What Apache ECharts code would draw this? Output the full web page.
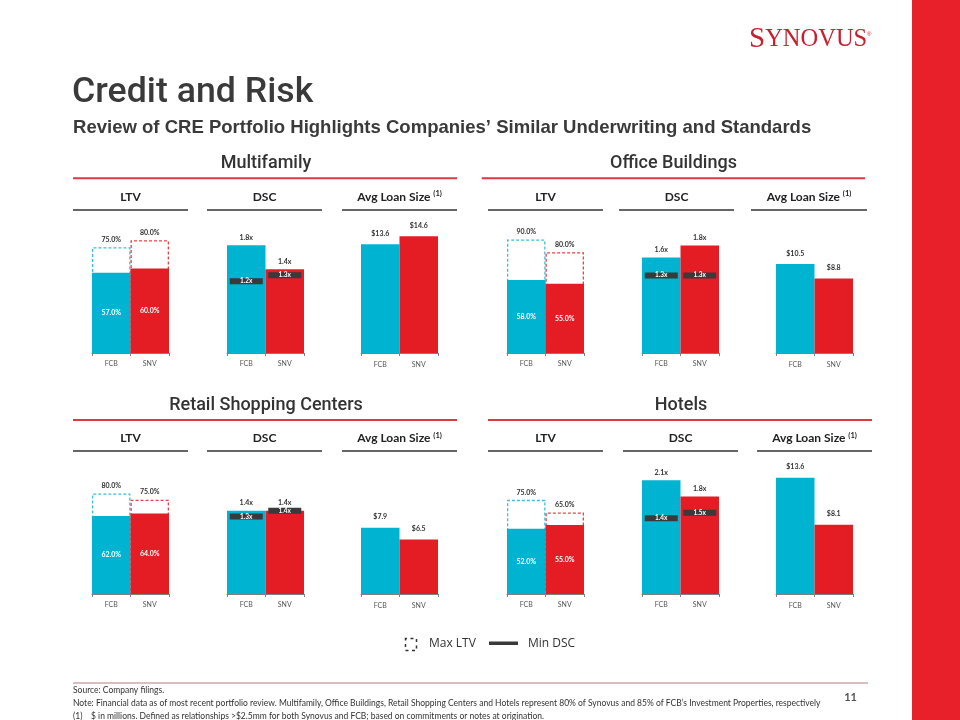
<!DOCTYPE html>
<html><head><meta charset="utf-8">
<script src="https://cdn.jsdelivr.net/npm/echarts@6/dist/echarts.min.js"></script>
<style>html,body{margin:0;padding:0;background:#fff}#c{width:960px;height:720px}</style>
</head><body><div id="c"></div>
<script>
// ---------- data ----------
const categories = ['FCB', 'SNV'];
const sectionNames = ['Multifamily', 'Office Buildings', 'Retail Shopping Centers', 'Hotels'];
const metricNames = ['LTV', 'DSC', 'Avg Loan Size'];
const legendNames = ['Max LTV', 'Min DSC'];

// Multifamily
const mfLtv = [57.0, 60.0];
const mfMaxLtv = [75.0, 80.0];
const mfDsc = [1.8, 1.4];
const mfMinDsc = [1.2, 1.3];
const mfLoan = [13.6, 14.6];
// Office Buildings
const ofLtv = [58.0, 55.0];
const ofMaxLtv = [90.0, 80.0];
const ofDsc = [1.6, 1.8];
const ofMinDsc = [1.3, 1.3];
const ofLoan = [10.5, 8.8];
// Retail Shopping Centers
const rtLtv = [62.0, 64.0];
const rtMaxLtv = [80.0, 75.0];
const rtDsc = [1.4, 1.4];
const rtMinDsc = [1.3, 1.4];
const rtLoan = [7.9, 6.5];
// Hotels
const htLtv = [52.0, 55.0];
const htMaxLtv = [75.0, 65.0];
const htDsc = [2.1, 1.8];
const htMinDsc = [1.4, 1.5];
const htLoan = [13.6, 8.1];

// ---------- layout / style ----------
const FONT = 'Lato';
const barColors = ['#00B3D1', '#E41D25'];
const dashColors = ['#3FBED8', '#E0454C'];
const plotH = 150;
const baseY = [353, 594];
const barLeft = [[92, 227, 361, 507, 642, 776], [92, 227, 361, 507, 642, 776]];
const yMax = [[106.4, 2.508, 18.75, 119, 2.513, 17.7], [119.3, 2.52, 17.86, 119.5, 2.77, 17.54]];

const groups = [
  [mfLtv, mfMaxLtv, mfDsc, mfMinDsc, mfLoan],
  [ofLtv, ofMaxLtv, ofDsc, ofMinDsc, ofLoan],
  [rtLtv, rtMaxLtv, rtDsc, rtMinDsc, rtLoan],
  [htLtv, htMaxLtv, htDsc, htMinDsc, htLoan]
];

const grids = [], xAxes = [], yAxes = [], series = [];
const outLabel = {show: true, fontFamily: FONT, fontSize: 7, fontWeight: 'bold', color: '#333'};

groups.forEach((g, gi) => {
  const row = Math.floor(gi / 2), half = gi % 2;
  const [ltv, maxLtv, dsc, minDsc, loan] = g;
  for (let m = 0; m < 3; m++) {
    const k = half * 3 + m;
    const idx = grids.length;
    grids.push({left: barLeft[row][k], top: baseY[row] - plotH, width: 77, height: plotH, outerBoundsMode: 'none', containLabel: false});
    xAxes.push({
      type: 'category', gridIndex: idx, data: categories,
      axisLine: {lineStyle: {color: '#808080', width: 1}},
      axisTick: {show: true, length: 3, lineStyle: {color: '#808080'}},
      axisLabel: {fontFamily: FONT, fontSize: 7, color: '#555', margin: 7 + (m === 2 ? 1 : 0)}
    });
    yAxes.push({type: 'value', gridIndex: idx, min: 0, max: yMax[row][k], show: false, splitLine: {show: false}});
    const base = {xAxisIndex: idx, yAxisIndex: idx, barWidth: '100%', barGap: '-100%', silent: true, animation: false};
    if (m === 0) {
      series.push(Object.assign({}, base, {
        type: 'bar', name: 'Max LTV',
        data: maxLtv.map((v, i) => ({value: v, itemStyle: {color: 'rgba(255,255,255,0)', borderColor: dashColors[i], borderWidth: 1.3, borderType: [3, 2]}})),
        label: Object.assign({}, outLabel, {position: 'top', distance: 4, formatter: p => p.value.toFixed(1) + '%'})
      }));
      series.push(Object.assign({}, base, {
        type: 'bar', name: 'LTV',
        data: ltv.map((v, i) => ({value: v, itemStyle: {color: barColors[i], borderColor: barColors[i], borderWidth: 1.5}})),
        label: Object.assign({}, outLabel, {position: 'inside', color: '#fff', formatter: p => p.value.toFixed(1) + '%'})
      }));
    } else if (m === 1) {
      series.push(Object.assign({}, base, {
        type: 'bar', name: 'DSC',
        data: dsc.map((v, i) => ({value: v, itemStyle: {color: barColors[i]}})),
        label: Object.assign({}, outLabel, {position: 'top', distance: 4, formatter: p => p.value.toFixed(1) + 'x'})
      }));
      series.push({
        type: 'scatter', name: 'Min DSC', xAxisIndex: idx, yAxisIndex: idx, silent: true, animation: false, z: 5,
        symbol: 'rect', symbolSize: [33, 6], data: minDsc,
        itemStyle: {color: '#3a3a3a', opacity: 1},
        label: {show: true, position: 'inside', fontFamily: FONT, fontSize: 6.5, fontWeight: 'bold', color: '#fff', formatter: p => p.value.toFixed(1) + 'x'}
      });
    } else {
      series.push(Object.assign({}, base, {
        type: 'bar', name: 'Avg Loan Size',
        data: loan.map((v, i) => ({value: v, itemStyle: {color: barColors[i]}})),
        label: Object.assign({}, outLabel, {position: 'top', distance: 7, formatter: p => '$' + p.value.toFixed(1)})
      }));
    }
  }
});

// ---------- decorations ----------
const gfx = [];
const txt = (text, x, y, font, fill, align, vAlign) => ({type: 'text', silent: true, style: {text, x, y, font, fill, textAlign: align || 'left', textVerticalAlign: vAlign || 'middle'}});
const line = (x1, y1, x2, y2, stroke, w) => ({type: 'line', silent: true, shape: {x1, y1, x2, y2}, style: {stroke, lineWidth: w}});

gfx.push({type: 'rect', silent: true, shape: {x: 912, y: 0, width: 48, height: 720}, style: {fill: '#E8202A'}});
// logo
gfx.push({type: 'text', silent: true, style: {x: 749, y: 54, textVerticalAlign: 'bottom', text: '{a|S}{b|YNOVUS}', rich: {a: {font: '29px "Liberation Serif"', fill: '#C8202F'}, b: {font: '24.5px "Liberation Serif"', fill: '#C8202F'}}}});
gfx.push(txt('®', 867, 34, '6px "Liberation Sans"', '#C8202F', 'left'));
// titles
gfx.push(txt('Credit and Risk', 72, 93, '500 35.7px Roboto', '#3a3a3a'));
gfx.push(txt('Review of CRE Portfolio Highlights Companies\u2019 Similar Underwriting and Standards', 73, 128, 'bold 18.55px "Liberation Sans"', '#3a3a3a'));

const secCenter = [[266, 163.3], [673.5, 163.3], [266, 405], [681, 405]];
const redLine = [[73, 457, 178.3], [481.7, 865, 178.3], [73, 457, 420], [488, 872, 420]];
const subLines = [
  [[73, 188], [207, 322], [342, 457]],
  [[488, 603], [619, 734], [751, 867]],
  [[73, 188], [207, 322], [342, 457]],
  [[488, 603], [623, 738], [757, 872]]
];
const subTextY = [196.7, 196.7, 438.3, 438.3];
const subLineY = [210, 210, 451, 451];
sectionNames.forEach((name, i) => {
  gfx.push(txt(name, secCenter[i][0], secCenter[i][1], '500 18px Roboto', '#333', 'center'));
  gfx.push(line(redLine[i][0], redLine[i][2], redLine[i][1], redLine[i][2], '#DC3A42', 2));
  metricNames.forEach((mn, j) => {
    const [a, b] = subLines[i][j];
    const cx = (a + b) / 2;
    if (j === 2) {
      gfx.push({type: 'text', silent: true, style: {x: cx, y: subTextY[i], textAlign: 'center', textVerticalAlign: 'middle',
        text: '{a|' + mn + ' }{s|(1)}', rich: {a: {font: 'bold 12px ' + FONT, fill: '#222'}, s: {font: 'bold 7.5px ' + FONT, fill: '#222', verticalAlign: 'top', padding: [0, 0, 6, 0]}}}});
    } else {
      gfx.push(txt(mn, cx, subTextY[i], 'bold 12px ' + FONT, '#222', 'center'));
    }
    gfx.push(line(a, subLineY[i], b, subLineY[i], '#333', 1.5));
  });
});

// legend
gfx.push({type: 'rect', silent: true, shape: {x: 405.5, y: 638.5, width: 11, height: 12}, style: {fill: 'none', stroke: '#333', lineWidth: 1.5, lineDash: [3, 3.5], lineDashOffset: 1.5}});
gfx.push(txt(legendNames[0], 429, 644, '12px "Open Sans"', '#333'));
gfx.push({type: 'rect', silent: true, shape: {x: 489, y: 641.5, width: 29, height: 3.5}, style: {fill: '#3a3a3a'}});
gfx.push(txt(legendNames[1], 528, 644, '12px "Open Sans"', '#333'));

// footer
gfx.push(line(73, 683, 868, 683, '#CDA9AB', 1.5));
gfx.push(txt('Source: Company filings.', 73, 690.5, '8.5px ' + FONT, '#333'));
gfx.push(txt('Note: Financial data as of most recent portfolio review. Multifamily, Office Buildings, Retail Shopping Centers and Hotels represent 80% of Synovus and 85% of FCB\u2019s Investment Properties, respectively', 73, 703.5, '8.5px ' + FONT, '#333'));
gfx.push(txt('(1)', 73, 716, '8.5px ' + FONT, '#333'));
gfx.push(txt('$ in millions. Defined as relationships >$2.5mm for both Synovus and FCB; based on commitments or notes at origination.', 91, 716, '8.5px ' + FONT, '#333'));
gfx.push(txt('11', 857, 697, 'bold 11px ' + FONT, '#555', 'right'));

const chart = echarts.init(document.getElementById('c'), null, {renderer: 'canvas'});
chart.setOption({
  animation: false,
  backgroundColor: '#fff',
  grid: grids, xAxis: xAxes, yAxis: yAxes, series: series,
  graphic: gfx
});
</script></body></html>
